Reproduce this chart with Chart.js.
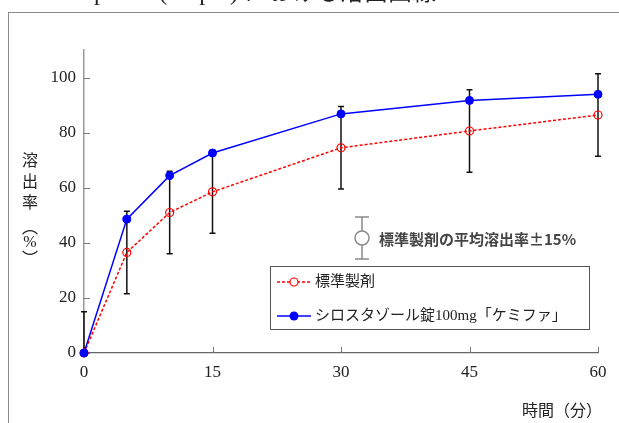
<!DOCTYPE html>
<html>
<head>
<meta charset="utf-8">
<script src="https://cdn.jsdelivr.net/npm/chart.js@4"></script>
<style>
  html, body { margin: 0; padding: 0; background: #fff; }
  #wrap { width: 619px; height: 423px; position: relative; overflow: hidden; }
</style>
</head>
<body>
<div id="wrap"><canvas id="dissolutionChart" width="619" height="423"></canvas></div>
<script>
// 溶出曲線のデータ
const times = [0, 5, 10, 15, 30, 45, 60];
const refValues = [0, 36.5, 51, 58.5, 74.5, 80.6, 86.4];
const testValues = [0, 48.6, 64.4, 72.6, 86.8, 91.7, 93.9];
const refRange = 15;
const xTicks = [0, 15, 30, 45, 60];
const yTicks = [0, 20, 40, 60, 80, 100];
const refLabel = '標準製剤';
const testLabel = 'シロスタゾール錠100mg「ケミファ」';

const serif = '"Liberation Serif", "Noto Sans CJK JP", serif';
const sans = '"Noto Sans CJK JP", sans-serif';

const toPoints = vals => vals.map((v, i) => ({ x: times[i], y: v }));

// 枠・タイトル・誤差棒・凡例など
const extras = {
    id: 'extras',
    beforeDraw(chart) {
        const c = chart.ctx;
        c.save();
        c.strokeStyle = '#8a8a8a';
        c.lineWidth = 1;
        c.strokeRect(8.5, 12.5, 700, 500);
        c.fillStyle = '#222';
        c.font = '24px ' + serif;
        c.textAlign = 'center';
        c.textBaseline = 'bottom';
        c.fillText('pH1.2 (50rpm) における溶出曲線', 265, 6);
        c.restore();
    },
    beforeDatasetsDraw(chart) {
        const c = chart.ctx;
        const xs = chart.scales.x, ys = chart.scales.y;
        c.save();
        // 軸の内向き目盛
        c.strokeStyle = '#777';
        c.lineWidth = 1;
        yTicks.forEach(t => {
            const y = Math.round(ys.getPixelForValue(t)) + 0.5;
            c.beginPath(); c.moveTo(xs.left, y); c.lineTo(xs.left + 6, y); c.stroke();
        });
        xTicks.forEach(t => {
            const x = Math.round(xs.getPixelForValue(t)) + 0.5;
            c.beginPath(); c.moveTo(x, ys.bottom); c.lineTo(x, ys.bottom - 6); c.stroke();
        });
        // 標準製剤 ±15% の誤差棒
        c.strokeStyle = '#111';
        c.lineWidth = 1.5;
        refValues.forEach((v, i) => {
            const x = xs.getPixelForValue(times[i]);
            const top = ys.getPixelForValue(v + refRange);
            const bot = ys.getPixelForValue(Math.max(0, v - refRange));
            c.beginPath();
            c.moveTo(x, top); c.lineTo(x, bot);
            c.moveTo(x - 3, top); c.lineTo(x + 3, top);
            if (v - refRange > 0) { c.moveTo(x - 3, bot); c.lineTo(x + 3, bot); }
            c.stroke();
        });
        c.restore();
    },
    afterDraw(chart) {
        const c = chart.ctx;
        c.save();
        // 誤差棒の説明
        c.strokeStyle = '#8a8a8a';
        c.lineWidth = 1.5;
        c.beginPath();
        c.moveTo(362, 217); c.lineTo(362, 259);
        c.moveTo(355, 217); c.lineTo(369, 217);
        c.moveTo(355, 259); c.lineTo(369, 259);
        c.stroke();
        c.beginPath(); c.arc(362, 238, 7, 0, Math.PI * 2);
        c.fillStyle = '#fff'; c.fill(); c.stroke();
        c.fillStyle = '#444';
        c.font = 'bold 15px ' + sans;
        c.textAlign = 'left';
        c.textBaseline = 'middle';
        c.fillText('標準製剤の平均溶出率±15%', 379, 239);

        // 凡例
        c.strokeStyle = '#555';
        c.lineWidth = 1;
        c.fillStyle = '#fff';
        c.fillRect(271, 267, 319, 63);
        c.strokeRect(270.5, 266.5, 319, 63);
        const rows = [
            { y: 282, color: '#ff0000', dash: [3, 2], fill: false, text: refLabel },
            { y: 316, color: '#0000ff', dash: [], fill: true, text: testLabel }
        ];
        rows.forEach(r => {
            c.strokeStyle = r.color;
            c.lineWidth = 1.5;
            c.setLineDash(r.dash);
            c.beginPath(); c.moveTo(277, r.y); c.lineTo(311, r.y); c.stroke();
            c.setLineDash([]);
            c.beginPath(); c.arc(294, r.y, r.fill ? 4.5 : 4, 0, Math.PI * 2);
            if (r.fill) { c.fillStyle = r.color; c.fill(); }
            else { c.lineWidth = 1.2; c.fillStyle = '#fff'; c.fill(); c.stroke(); }
            c.fillStyle = '#222';
            c.font = '15px ' + serif;
            c.textBaseline = 'middle';
            c.fillText(r.text, 315, r.y);
        });

        // 縦書きの軸タイトル
        c.fillStyle = '#222';
        c.font = '16px ' + sans;
        c.textAlign = 'center';
        ['溶', '出', '率'].forEach((ch, i) => c.fillText(ch, 30, 160 + i * 21));
        c.fillText('︵', 30, 227);
        c.font = '16px ' + serif;
        c.fillText('%', 30, 243);
        c.font = '16px ' + sans;
        c.fillText('︶', 30, 258);

        // 横軸タイトル
        c.font = '16px ' + sans;
        c.textAlign = 'right';
        c.fillText('時間（分）', 602, 410);
        c.restore();
    }
};

const ctx = document.getElementById('dissolutionChart').getContext('2d');
const dissolutionChart = new Chart(ctx, {
    type: 'line',
    data: {
        datasets: [{
            label: refLabel,
            data: toPoints(refValues),
            borderColor: '#ff0000',
            borderWidth: 1.5,
            borderDash: [3, 2],
            pointRadius: 4,
            pointBorderWidth: 1.2,
            pointBackgroundColor: 'rgba(0,0,0,0)',
            pointBorderColor: '#ff0000',
            clip: false,
            order: 2
        }, {
            label: testLabel,
            data: toPoints(testValues),
            borderColor: '#0000ff',
            borderWidth: 1.5,
            pointRadius: 4,
            pointBorderWidth: 1,
            pointBackgroundColor: '#0000ff',
            pointBorderColor: '#0000ff',
            clip: false,
            order: 1
        }]
    },
    options: {
        responsive: false,
        animation: false,
        layout: { padding: { top: 50, right: 21, left: 0, bottom: 0 } },
        plugins: { legend: { display: false }, tooltip: { enabled: false } },
        scales: {
            x: {
                type: 'linear',
                min: 0,
                max: 60,
                afterBuildTicks: s => { s.ticks = xTicks.map(v => ({ value: v })); },
                afterFit: s => { s.height = 70; },
                grid: { display: true, drawOnChartArea: false, drawTicks: false },
                border: { color: '#666', width: 1.2 },
                ticks: { padding: 9, color: '#222', font: { family: serif, size: 17 } }
            },
            y: {
                min: 0,
                max: 110,
                afterBuildTicks: s => { s.ticks = yTicks.map(v => ({ value: v })); },
                afterFit: s => { s.width = 84; },
                grid: { display: true, drawOnChartArea: false, drawTicks: false },
                border: { color: '#999', width: 1.5 },
                ticks: { padding: 8, color: '#222', font: { family: serif, size: 17 } }
            }
        }
    },
    plugins: [extras]
});
</script>
</body>
</html>
